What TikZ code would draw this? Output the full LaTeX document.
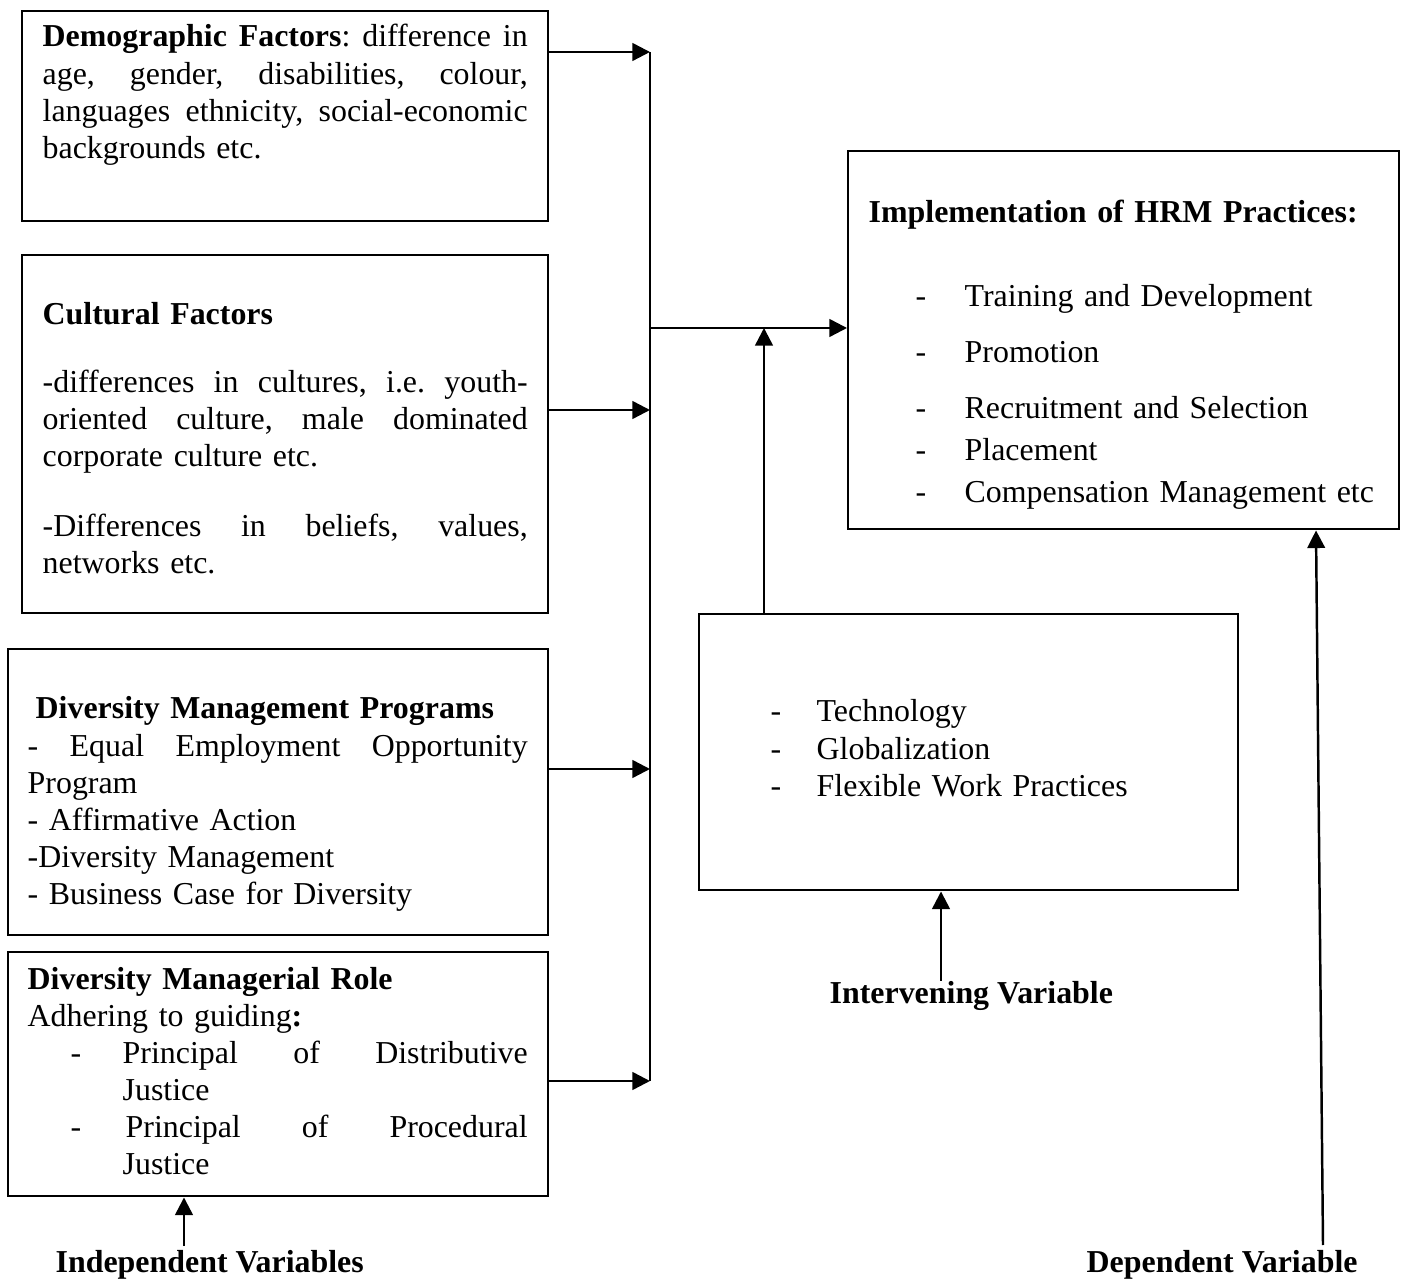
\documentclass[tikz,border=0pt]{standalone}
\usepackage{fontspec}
\setmainfont{Liberation Serif}
\usetikzlibrary{arrows.meta}
\newlength{\px}
\setlength{\px}{0.01cm}
\newcommand{\bodyfont}{\fontsize{9.07pt}{10.53pt}\selectfont\frenchspacing\spaceskip=0.25em plus 0.12em minus 0.08em\relax}
\newcommand{\spread}[2]{\leavevmode\hbox to #1\px{\spaceskip=0.25em plus 1fil\relax #2}}
\newcommand{\dashitem}[3]{\hspace*{#1\px}\makebox[#2\px][l]{-}#3}

\begin{document}
\begin{tikzpicture}[x=0.01cm,y=-0.01cm,
  box/.style={draw,line width=0.7pt,anchor=north west,inner sep=0pt},
  txt/.style={anchor=base west,inner sep=0pt,text width=560\px,font=\bodyfont},
  lbl/.style={anchor=base west,inner sep=0pt,font=\bodyfont\bfseries},
  arr/.style={line width=0.7pt,-{Triangle[length=5pt,width=5pt]}}]
\useasboundingbox (0,0) rectangle (1406,1286);

\node[box,minimum width=526\px,minimum height=210\px] (demo) at (21,10) {};
\node[box,minimum width=526\px,minimum height=358\px] (cult) at (21,254) {};
\node[box,minimum width=540\px,minimum height=286\px] (dmp) at (7,648) {};
\node[box,minimum width=540\px,minimum height=244\px] (dmr) at (7,951) {};
\node[box,minimum width=551\px,minimum height=378\px] (hrm) at (847,150) {};
\node[box,minimum width=539\px,minimum height=276\px] (inter) at (698,613) {};

\node[txt] (demotxt) at (42,47) {\spread{485}{\textbf{Demographic Factors}: difference in}\\
  \spread{485}{age, gender, disabilities, colour,}\\
  \spread{485}{languages ethnicity, social-economic}\\
  backgrounds etc.};
\node[txt] (culttxt) at (42,325) {\textbf{Cultural Factors}\\[30\px]
  \spread{485}{-differences in cultures, i.e. youth-}\\
  \spread{485}{oriented culture, male dominated}\\
  corporate culture etc.\\[33\px]
  \spread{485}{-Differences in beliefs, values,}\\
  networks etc.};
\node[txt] (dmptxt) at (27,719) {\hspace*{8\px}\textbf{Diversity Management Programs}\\
  \spread{500}{- Equal Employment Opportunity}\\
  Program\\
  - Affirmative Action\\
  -Diversity Management\\
  - Business Case for Diversity};
\node[txt] (dmrtxt) at (27,989) {\textbf{Diversity Managerial Role}\\
  Adhering to guiding\textbf{:}\\
  \dashitem{43}{52}{\spread{405}{Principal of Distributive}}\\
  \hspace*{95\px}Justice\\
  \dashitem{43}{52}{\spread{405}{\hspace*{3\px}Principal of Procedural}}\\
  \hspace*{95\px}Justice};
\node[txt] (hrmtxt) at (868,223) {\textbf{Implementation of HRM Practices:}\\[46\px]
  \dashitem{47}{49}{Training and Development}\\[19\px]
  \dashitem{47}{49}{Promotion}\\[19\px]
  \dashitem{47}{49}{Recruitment and Selection}\\[5\px]
  \dashitem{47}{49}{Placement}\\[5\px]
  \dashitem{47}{49}{Compensation Management etc}};
\node[txt] (inttxt) at (770,722) {\dashitem{0}{46}{Technology}\\
  \dashitem{0}{46}{Globalization}\\
  \dashitem{0}{46}{Flexible Work Practices}};

\node[lbl] (indep) at (55,1272) {Independent Variables};
\node[lbl] (interv) at (829,1004) {Intervening Variable};
\node[lbl] (dep) at (1086,1272) {Dependent Variable};

\coordinate (b1) at (650,52);
\coordinate (b2) at (650,410);
\coordinate (b3) at (650,769);
\coordinate (b4) at (650,1081);
\coordinate (hub) at (650,328);
\coordinate (up) at (764,328);
\coordinate (ia) at (184,1246);
\coordinate (ib) at (941,981);
\coordinate (ic) at (1323,1245);
\coordinate (id) at (1316,528);

\draw[line width=0.7pt] (b1) -- (b4);
\draw[arr] (demo.east |- b1) -- (b1);
\draw[arr] (cult.east |- b2) -- (b2);
\draw[arr] (dmp.east |- b3) -- (b3);
\draw[arr] (dmr.east |- b4) -- (b4);
\draw[arr] (hub) -- (hrm.west |- hub);
\draw[arr] (inter.north -| up) -- (up);
\draw[arr] (ia) -- (dmr.south -| ia);
\draw[arr] (ib) -- (inter.south -| ib);
\draw[arr] (ic) -- (hrm.south -| id);
\end{tikzpicture}
\end{document}
